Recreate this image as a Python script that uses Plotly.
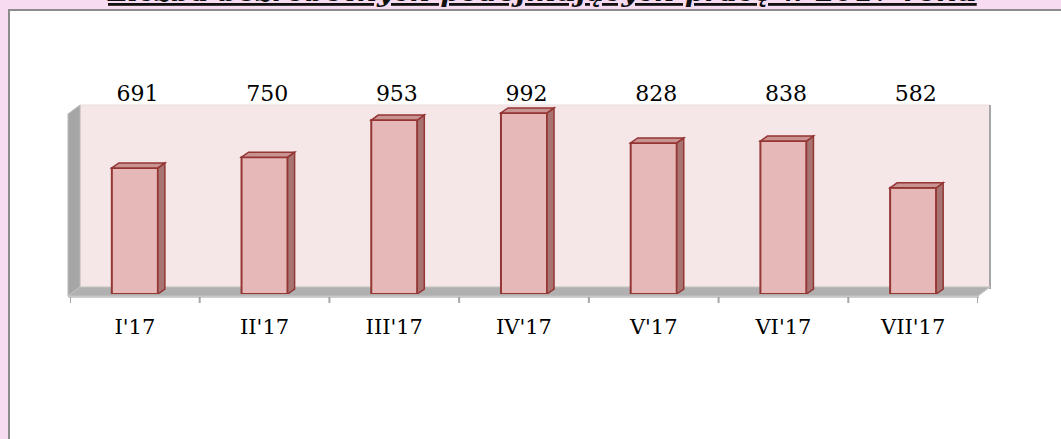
import plotly.graph_objects as go

categories = ["I'17", "II'17", "III'17", "IV'17", "V'17", "VI'17", "VII'17"]
values = [691, 750, 953, 992, 828, 838, 582]
title_text = "Liczba bezrobotnych podejmujących pracę w 2017 roku"

W, H = 1061, 439
L, R, T, B = 70, 83, 80, 145
PW = W - L - R
PH = H - T - B
PX_PER_UNIT = 0.1825
YMAX = PH / PX_PER_UNIT
n = len(categories)
bar_w = 0.355
LABEL_Y = (294 - 95) / PX_PER_UNIT

def px(x):
    return (x - L) / PW

def py(y):
    return (H - B - y) / PH

# pixel depth -> data units
dx = 7 / (PW / n)
dy = 5 / PX_PER_UNIT

xs = list(range(n))
fig = go.Figure()
fig.add_trace(go.Bar(
    x=xs, y=values, width=bar_w,
    marker=dict(color="#E6B9B8", line=dict(color="#943634", width=2)),
    hoverinfo="skip",
))
fig.add_trace(go.Scatter(
    x=[x + 0.02 for x in xs], y=[LABEL_Y] * n, mode="text", text=[str(v) for v in values],
    textfont=dict(family="DejaVu Serif", size=22, color="#000000"),
    cliponaxis=False, hoverinfo="skip",
))

shapes = []
# white box
shapes.append(dict(type="rect", xref="paper", yref="paper",
                   x0=px(9), x1=px(1075), y0=py(450), y1=py(10),
                   fillcolor="white", line=dict(color="#8C8C8C", width=2), layer="below"))
# back wall
shapes.append(dict(type="rect", xref="paper", yref="paper",
                   x0=px(80), x1=px(990), y0=py(287), y1=py(105),
                   fillcolor="#F5E6E8", line=dict(color="#EBDCDE", width=1), layer="below"))
shapes.append(dict(type="line", xref="paper", yref="paper",
                   x0=px(990), x1=px(990), y0=py(289), y1=py(105),
                   line=dict(color="#A6A6A6", width=2), layer="below"))
# left wall
shapes.append(dict(type="path", xref="paper", yref="paper",
                   path=f"M{px(68)},{py(296)} L{px(80)},{py(287)} L{px(80)},{py(105)} L{px(68)},{py(114)} Z",
                   fillcolor="#A6A6A6", line=dict(color="#B8B8B8", width=1), layer="below"))
# floor
shapes.append(dict(type="path", xref="paper", yref="paper",
                   path=f"M{px(68)},{py(296)} L{px(978)},{py(296)} L{px(990)},{py(287)} L{px(80)},{py(287)} Z",
                   fillcolor="#B0B0B0", line=dict(color="#C4C4C4", width=1), layer="below"))
# axis line and ticks
shapes.append(dict(type="line", xref="paper", yref="paper",
                   x0=px(68), x1=px(979), y0=py(297), y1=py(297),
                   line=dict(color="#BFBFBF", width=1.5), layer="below"))
for i in range(n + 1):
    xb = -0.5 + i
    shapes.append(dict(type="line", xref="x", yref="paper",
                       x0=xb, x1=xb, y0=py(297), y1=py(303),
                       line=dict(color="#A6A6A6", width=2), layer="below"))

# 3D faces of bars
for i, v in enumerate(values):
    xl = i - bar_w / 2
    xr = i + bar_w / 2
    side = f"M{xr},{0} L{xr + dx},{dy} L{xr + dx},{v + dy} L{xr},{v} Z"
    top = f"M{xl},{v} L{xl + dx},{v + dy} L{xr + dx},{v + dy} L{xr},{v} Z"
    shapes.append(dict(type="path", xref="x", yref="y", path=side,
                       fillcolor="#A77472", line=dict(color="#943634", width=1.5)))
    shapes.append(dict(type="path", xref="x", yref="y", path=top,
                       fillcolor="#C99392", line=dict(color="#943634", width=1.5)))

fig.update_layout(
    width=W, height=H,
    margin=dict(l=L, r=R, t=T, b=B),
    paper_bgcolor="#F6DBF1",
    plot_bgcolor="rgba(0,0,0,0)",
    showlegend=False,
    shapes=shapes,
    xaxis=dict(range=[-0.5, n - 0.5], tickvals=xs, ticktext=categories,
               showgrid=False, zeroline=False, showline=False, ticks="",
               ticklabelstandoff=18,
               tickfont=dict(family="DejaVu Serif", size=21, color="#000000")),
    yaxis=dict(range=[0, YMAX], visible=False, showgrid=False, zeroline=False),
    annotations=[dict(
        text="<b><i><u>" + title_text + "</u></i></b>",
        xref="paper", yref="paper", x=px(542), y=py(10),
        xanchor="center", yanchor="bottom", showarrow=False,
        font=dict(family="DejaVu Serif", size=28, color="#111111"),
    )],
)

fig.write_html(
    "out.html",
    config={"displayModeBar": False},
    post_script="document.body.style.margin='0px';document.body.style.background='#F6DBF1';",
)
